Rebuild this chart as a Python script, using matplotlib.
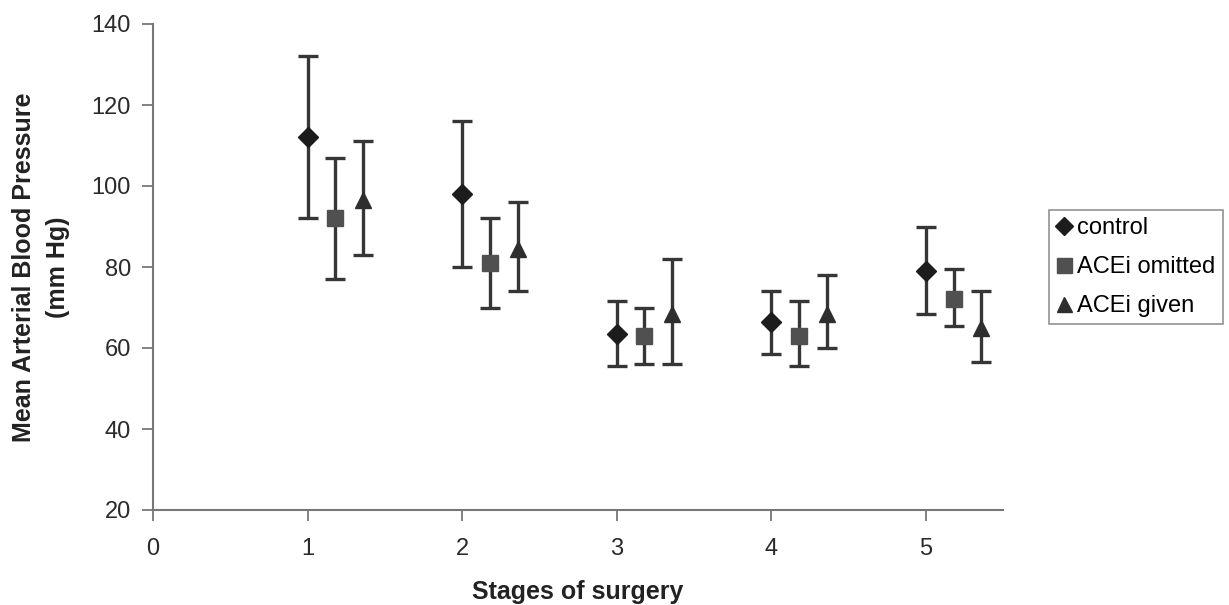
import matplotlib
matplotlib.use("Agg")
import matplotlib.pyplot as plt
import numpy as np

plt.rcParams['font.family'] = ['Liberation Sans', 'DejaVu Sans']

# Data
stages = [1, 2, 3, 4, 5]
series = ['control', 'ACEi omitted', 'ACEi given']
offsets = [0.0, 0.18, 0.36]

control_mean = [112, 98, 63.5, 66.5, 79]
control_low = [92, 80, 55.5, 58.5, 68.5]
control_high = [132, 116, 71.5, 74, 90]

omitted_mean = [92, 81, 63, 63, 72]
omitted_low = [77, 70, 56, 55.5, 65.5]
omitted_high = [107, 92, 70, 71.5, 79.5]

given_mean = [96.5, 84.5, 68.5, 68.5, 65]
given_low = [83, 74, 56, 60, 56.5]
given_high = [111, 96, 82, 78, 74]

means = [control_mean, omitted_mean, given_mean]
lows = [control_low, omitted_low, given_low]
highs = [control_high, omitted_high, given_high]
markers = ['D', 's', '^']
msizes = [10, 12, 12]
colors = ['#1c1c1c', '#505050', '#2e2e2e']

fig = plt.figure(figsize=(12.29, 6.05), dpi=100)
ax = fig.add_axes([153 / 1229, 1 - 510 / 605, 850 / 1229, 486 / 605])

for i in range(3):
    x = np.array(stages) + offsets[i]
    m = np.array(means[i])
    lo = m - np.array(lows[i])
    hi = np.array(highs[i]) - m
    ax.errorbar(x, m, yerr=[lo, hi], fmt='none', ecolor='#363636',
                elinewidth=2.4, capsize=7, capthick=2.4, zorder=2)
    ax.plot(x, m, linestyle='none', marker=markers[i], markersize=msizes[i],
            color=colors[i], label=series[i], zorder=3)

ax.set_xlim(0, 5.5)
ax.set_ylim(20, 140)
ax.set_xticks(range(0, 6))
ax.set_yticks(range(20, 141, 20))
ax.tick_params(axis='both', labelsize=17, colors='#777777', labelcolor='#2a2a2a',
               length=8, width=1.3)
ax.tick_params(axis='x', pad=12)
ax.tick_params(axis='y', pad=8)
for s in ['top', 'right']:
    ax.spines[s].set_visible(False)
for s in ['left', 'bottom']:
    ax.spines[s].set_color('#777777')
    ax.spines[s].set_linewidth(1.5)

fig.text(41 / 1229, 1 - 267 / 605, 'Mean Arterial Blood Pressure\n(mm Hg)',
         rotation=90, ha='center', va='center', multialignment='center',
         fontsize=18, fontweight='bold', color='#222222', linespacing=1.5)
fig.text(578 / 1229, 1 - 580 / 605, 'Stages of surgery', ha='center', va='top',
         fontsize=18, fontweight='bold', color='#222222')

leg = fig.legend(loc='upper left', bbox_to_anchor=(1049 / 1229, 1 - 210 / 605),
                 fontsize=17, frameon=True, fancybox=False, handlelength=0.7,
                 handletextpad=0.2, labelspacing=0.72, borderpad=0.3,
                 borderaxespad=0, markerscale=0.9)
leg.get_frame().set_edgecolor('#777777')
leg.get_frame().set_linewidth(1.2)

fig.savefig('out.png', dpi=100)
